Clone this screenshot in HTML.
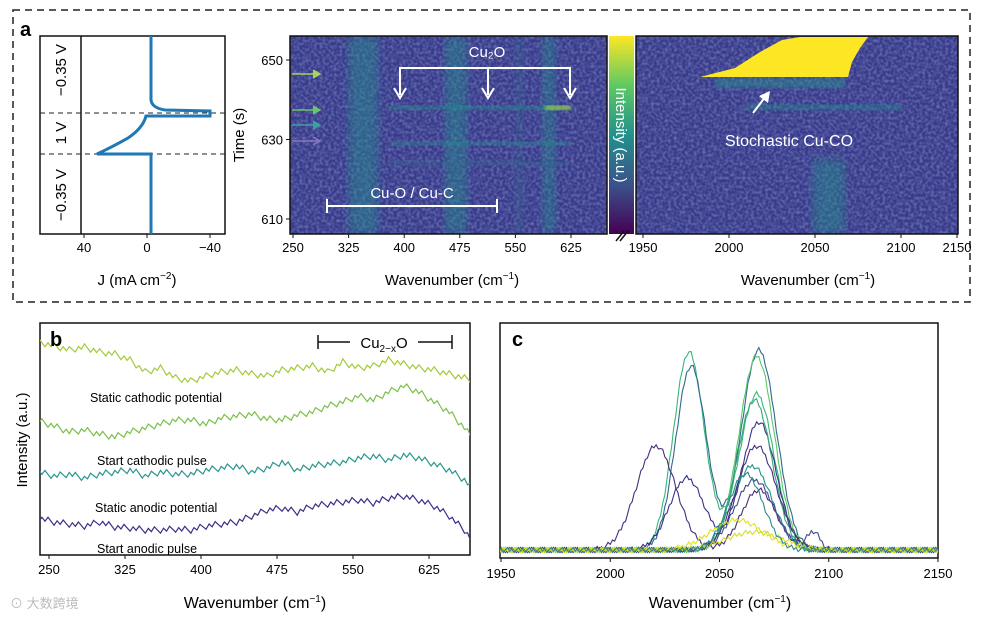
<!DOCTYPE html>
<html><head><meta charset="utf-8">
<style>
html,body{margin:0;padding:0;background:#fff;}
svg{display:block;font-family:"Liberation Sans",sans-serif;}
</style></head>
<body>
<svg id="fig" width="982" height="620" viewBox="0 0 982 620">
<defs>
<linearGradient id="vir" x1="0" y1="1" x2="0" y2="0">
<stop offset="0" stop-color="#440154"/><stop offset="0.25" stop-color="#3b528b"/>
<stop offset="0.5" stop-color="#21918c"/><stop offset="0.75" stop-color="#5ec962"/>
<stop offset="1" stop-color="#fde725"/></linearGradient>
<filter id="blur4"><feGaussianBlur stdDeviation="5"/></filter>
<filter id="blur2"><feGaussianBlur stdDeviation="1.5"/></filter>
<filter id="noise" x="0" y="0" width="100%" height="100%">
<feTurbulence type="fractalNoise" baseFrequency="0.35" numOctaves="1" seed="3"/>
<feColorMatrix type="matrix" values="0 0 0 0 0.25  0 0 0 0 0.35  0 0 0 0 0.6  0 0 0 1.2 -0.45"/>
</filter>
<clipPath id="c1"><rect x="290" y="36" width="317" height="198"/></clipPath>
<clipPath id="c2"><rect x="636" y="36" width="322" height="198"/></clipPath>
<clipPath id="cc"><rect x="500" y="323" width="438" height="235"/></clipPath>
<clipPath id="cb"><rect x="40" y="323" width="430" height="232"/></clipPath>
</defs>

<rect x="13" y="10" width="957" height="292" fill="none" stroke="#222" stroke-width="1.5" stroke-dasharray="7,5"/>
<text x="20" y="36" font-size="20" font-weight="bold">a</text>

<g>
<rect x="40" y="36" width="185" height="198" fill="#fff" stroke="#111" stroke-width="1.5"/>
<line x1="81" y1="36" x2="81" y2="234" stroke="#111" stroke-width="1.5"/>
<line x1="40" y1="113" x2="225" y2="113" stroke="#222" stroke-dasharray="5,4"/>
<line x1="40" y1="154" x2="225" y2="154" stroke="#222" stroke-dasharray="5,4"/>
<text transform="translate(66,70) rotate(-90)" font-size="15" text-anchor="middle">−0.35 V</text>
<text transform="translate(66,133) rotate(-90)" font-size="15" text-anchor="middle">1 V</text>
<text transform="translate(66,195) rotate(-90)" font-size="15" text-anchor="middle">−0.35 V</text>
<path d="M151,36 L151,100 Q152,108 165,110 L210,111 L210,116 L146,116 Q143,128 128,138 Q112,147 97,154 L151,154 L151,234" fill="none" stroke="#1f77b4" stroke-width="3"/>
<g font-size="13" text-anchor="middle">
<line x1="84" y1="234" x2="84" y2="238" stroke="#111"/><text x="84" y="252">40</text>
<line x1="147" y1="234" x2="147" y2="238" stroke="#111"/><text x="147" y="252">0</text>
<line x1="210" y1="234" x2="210" y2="238" stroke="#111"/><text x="210" y="252">−40</text>
</g>
<text x="137" y="285" font-size="15" text-anchor="middle">J (mA cm<tspan dy="-6" font-size="10">−2</tspan><tspan dy="6">)</tspan></text>
</g>

<g>
<rect x="290" y="36" width="317" height="198" fill="#3a3a8c"/>
<rect x="290" y="36" width="317" height="198" filter="url(#noise)"/>
<g id="hm1" clip-path="url(#c1)"></g>
<rect x="290" y="36" width="317" height="198" fill="none" stroke="#111" stroke-width="1.5"/>
</g>
<g id="hm1ax" font-size="13"></g>
<text transform="translate(244,135) rotate(-90)" font-size="15" text-anchor="middle">Time (s)</text>
<text x="452" y="285" font-size="15" text-anchor="middle">Wavenumber (cm<tspan dy="-6" font-size="10">−1</tspan><tspan dy="6">)</tspan></text>
<g stroke="#fff" fill="none" stroke-width="2">
<polyline points="400,95 400,68 570,68 570,95"/><line x1="488" y1="68" x2="488" y2="95"/>
<path d="M394,88 L400,98 L406,88" /><path d="M482,88 L488,98 L494,88"/><path d="M564,88 L570,98 L576,88"/>
<line x1="327" y1="206" x2="497" y2="206"/><line x1="327" y1="199" x2="327" y2="213"/><line x1="497" y1="199" x2="497" y2="213"/>
</g>
<text x="487" y="57" fill="#fff" font-size="15" text-anchor="middle">Cu₂O</text>
<text x="412" y="198" fill="#fff" font-size="15" text-anchor="middle">Cu-O / Cu-C</text>
<g stroke-width="1.5">
<line x1="292" y1="74" x2="318" y2="74" stroke="#a5d45a"/><path d="M313,70 L320,74 L313,78" fill="#a5d45a" stroke="#a5d45a"/>
<line x1="292" y1="110" x2="318" y2="110" stroke="#6cc46a"/><path d="M313,106 L320,110 L313,114" fill="#6cc46a" stroke="#6cc46a"/>
<line x1="292" y1="125" x2="318" y2="125" stroke="#3aa0a0"/><path d="M313,121 L320,125 L313,129" fill="#3aa0a0" stroke="#3aa0a0"/>
<line x1="292" y1="141" x2="318" y2="141" stroke="#8a7ac0"/><path d="M313,137 L320,141 L313,145" fill="none" stroke="#8a7ac0"/>
</g>

<g>
<rect x="609" y="36" width="25" height="198" fill="url(#vir)"/>
<text transform="translate(616,135) rotate(90)" fill="#fff" font-size="15" text-anchor="middle">Intensity (a.u.)</text>
<path d="M616,241 L624,231 M620,241 L628,231" stroke="#111" stroke-width="1.5"/>
</g>

<g>
<rect x="636" y="36" width="322" height="198" fill="#3a3a8c"/>
<rect x="636" y="36" width="322" height="198" filter="url(#noise)"/>
<g id="hm2" clip-path="url(#c2)"></g>
<rect x="636" y="36" width="322" height="198" fill="none" stroke="#111" stroke-width="1.5"/>
</g>
<g id="hm2ax" font-size="13"></g>
<text x="808" y="285" font-size="15" text-anchor="middle">Wavenumber (cm<tspan dy="-6" font-size="10">−1</tspan><tspan dy="6">)</tspan></text>
<g>
<line x1="753" y1="113" x2="766" y2="96" stroke="#fff" stroke-width="2"/>
<path d="M759,96 L770,91 L768,103 Z" fill="#fff"/>
<text x="789" y="146" fill="#fff" font-size="16" text-anchor="middle">Stochastic Cu-CO</text>
</g>

<g>
<rect x="40" y="323" width="430" height="232" fill="#fff" stroke="#111" stroke-width="1.5"/>
<g id="bLines" clip-path="url(#cb)"></g>
<text x="50" y="346" font-size="20" font-weight="bold">b</text>
<rect x="345" y="333" width="72" height="18" fill="#fff"/>
<g stroke="#111" stroke-width="1.5"><line x1="318" y1="342" x2="350" y2="342"/><line x1="418" y1="342" x2="452" y2="342"/><line x1="318" y1="335" x2="318" y2="349"/><line x1="452" y1="335" x2="452" y2="349"/></g>
<text x="384" y="348" font-size="15" text-anchor="middle">Cu<tspan font-size="10" dy="4">2−x</tspan><tspan dy="-4">O</tspan></text>
<g font-size="12.5">
<text x="90" y="402">Static cathodic potential</text>
<text x="97" y="465">Start cathodic pulse</text>
<text x="95" y="512">Static anodic potential</text>
<text x="97" y="553">Start anodic pulse</text>
</g>
</g>
<g id="bAx" font-size="13"></g>
<text transform="translate(27,440) rotate(-90)" font-size="15" text-anchor="middle">Intensity (a.u.)</text>
<text x="255" y="608" font-size="16" text-anchor="middle">Wavenumber (cm<tspan dy="-6" font-size="10">−1</tspan><tspan dy="6">)</tspan></text>

<g>
<rect x="500" y="323" width="438" height="235" fill="#fff" stroke="#111" stroke-width="1.5"/>
<g id="cLines" clip-path="url(#cc)"></g>
<text x="512" y="346" font-size="20" font-weight="bold">c</text>
</g>
<g id="cAx" font-size="13"></g>
<text x="720" y="608" font-size="16" text-anchor="middle">Wavenumber (cm<tspan dy="-6" font-size="10">−1</tspan><tspan dy="6">)</tspan></text>
<text x="10" y="608" font-size="13" fill="#bbb">⊙ 大数跨境</text>
</svg>

<script>
const NS='http://www.w3.org/2000/svg';
function mk(tag,attrs,parent){const e=document.createElementNS(NS,tag);for(const k in attrs)e.setAttribute(k,attrs[k]);parent.appendChild(e);return e;}

const hm1Ticks=[250,325,400,475,550,625];
const hm1TimeTicks=[610,630,650];
const hm1VBandCenters=[345,470,595,555];
const hm1VBandWidths=[40,30,18,12];
const hm1VBandLevels=[0.3,0.45,0.3,0.2];
const hm1HBandTimes=[638,629,624];
const hm1HBandLevels=[0.4,0.35,0.15];
const hm2Ticks=[1950,2000,2050,2100,2150];
const hm2HBandTimes=[638];
const hm2HBandLevels=[0.35];
const hm2VBandCenters=[2058];
const hm2VBandLevels=[0.3];

const x1=v=>293+(v-250)*(278/375);
const t1=v=>219-(v-610)*(159/40);
const x2=v=>643+(v-1950)*(86/50);
const viridis=l=>{const c=['#3a3a8c','#31688e','#21918c','#35b779','#90d743','#fde725'];const i=Math.min(5,Math.round(l*5));return c[i];};

const g1=document.getElementById('hm1');
hm1VBandCenters.forEach((c,i)=>{
  const r=mk('rect',{x:x1(c)-hm1VBandWidths[i]*0.37,y:36,width:hm1VBandWidths[i]*0.74,height:198,fill:viridis(hm1VBandLevels[i]),opacity:0.45,filter:'url(#blur4)'},g1);
  
  
});
hm1HBandTimes.forEach((t,i)=>{
  const r=mk('rect',{x:x1(380),y:t1(t)-2,width:x1(625)-x1(380),height:4,fill:viridis(hm1HBandLevels[i]),opacity:0.55,filter:'url(#blur2)'},g1);
  
  
});
mk('rect',{x:x1(590),y:t1(638)-2,width:x1(625)-x1(590),height:4,fill:'#a8d840',opacity:0.8,filter:'url(#blur2)'},g1);
const ax1=document.getElementById('hm1ax');
hm1Ticks.forEach(v=>{mk('line',{x1:x1(v),y1:234,x2:x1(v),y2:238,stroke:'#111'},ax1);const t=mk('text',{x:x1(v),y:252,'text-anchor':'middle'},ax1);t.textContent=v;});
hm1TimeTicks.forEach(v=>{mk('line',{x1:286,y1:t1(v),x2:290,y2:t1(v),stroke:'#111'},ax1);const t=mk('text',{x:283,y:t1(v)+5,'text-anchor':'end'},ax1);t.textContent=v;});

const g2=document.getElementById('hm2');
hm2VBandCenters.forEach((c,i)=>{
  const r=mk('rect',{x:x2(c)-16,y:160,width:32,height:74,fill:viridis(hm2VBandLevels[i]),opacity:0.45,filter:'url(#blur4)'},g2);
  
  
});
hm2HBandTimes.forEach((t,i)=>{
  const r=mk('rect',{x:x2(2010),y:t1(t)-3,width:x2(2100)-x2(2010),height:5,fill:viridis(hm2HBandLevels[i]),opacity:0.5,filter:'url(#blur2)'},g2);
  
  
});
mk('rect',{x:715,y:78,width:130,height:10,fill:'#2b8c8c',opacity:0.5,filter:'url(#blur2)'},g2);
const blob=mk('polygon',{points:'700,77 735,68 760,52 782,40 800,37 868,37 860,48 852,62 848,77',fill:'#fde725'},g2);


const ax2=document.getElementById('hm2ax');
hm2Ticks.forEach(v=>{const xx=Math.min(957,x2(v));mk('line',{x1:xx,y1:234,x2:xx,y2:238,stroke:'#111'},ax2);const t=mk('text',{x:xx,y:252,'text-anchor':'middle'},ax2);t.textContent=v;});

const bTicks=[250,325,400,475,550,625];
const bWavenumbers=[240,255,270,285,300,315,330,345,360,375,390,405,420,435,450,465,480,495,510,525,540,555,570,585,600,615,630,645,660,675];
const bTop=   [342,346,350,347,352,354,360,372,368,378,381,376,372,370,374,376,370,368,366,372,362,368,366,360,364,368,370,374,378,382];
const bSecond=[421,426,432,430,434,437,432,428,424,420,420,424,418,416,414,419,420,415,412,406,402,396,400,392,386,392,402,412,428,448];
const bThird= [472,476,474,478,474,472,470,476,472,474,474,470,468,466,472,468,462,470,466,464,462,458,456,460,455,458,464,470,480,496];
const bFourth=[518,522,524,526,522,527,528,530,530,529,530,526,524,522,516,510,508,512,506,504,502,500,503,498,496,500,506,516,530,552];
const bColors=['#a3c93a','#7bbf4a','#2a968e','#3b2f86'];
const xb=v=>49+(v-250)*(380/375);
const gb=document.getElementById('bLines');
[bTop,bSecond,bThird,bFourth].forEach((s,i)=>{
  const pts=[];
  for(let j=0;j<s.length-1;j++){
    for(let k=0;k<5;k++){
      const f=k/5;const w=bWavenumbers[j]+f*(bWavenumbers[j+1]-bWavenumbers[j]);
      const y=s[j]+f*(s[j+1]-s[j])+(((j*5+k)*7+i*3)%5-2)*1.6;
      pts.push(xb(w)+','+y);
    }
  }
  const p=mk('polyline',{points:pts.join(' '),fill:'none',stroke:bColors[i],'stroke-width':1.2},gb);
  
  
});
const bax=document.getElementById('bAx');
bTicks.forEach(v=>{mk('line',{x1:xb(v),y1:555,x2:xb(v),y2:559,stroke:'#111'},bax);const t=mk('text',{x:xb(v),y:574,'text-anchor':'middle'},bax);t.textContent=v;});

const cTicks=[1950,2000,2050,2100,2150];
const cPeakCenters=[[2036,2067],[2037,2068],[2021,2068],[2035,2068],[2067],[2066],[2065],[2067],[2066,2093],[2058],[2066],[2062]];
const cPeakHeights=[[0.99,0.78],[0.92,1.0],[0.52,0.3],[0.36,0.64],[0.97],[0.75],[0.42],[0.52],[0.35,0.09],[0.15],[0.09],[0.38]];
const cPeakWidths=[[7,8],[7,8],[9,8],[8,8],[8],[8],[9],[9],[9,3],[12],[13],[8]];
const cColors=['#35b779','#31688e','#472d7b','#3b2f86','#5ac864','#37a47c','#21918c','#46307e','#3e4a89','#dde318','#d2dc2a','#2b8c8c'];
const xc=v=>501+(v-1950)*(437/200);
const yc=v=>550-v*200;
const gc=document.getElementById('cLines');
cPeakCenters.forEach((cs,i)=>{
  const pts=[];
  for(let w=1948;w<=2152;w+=1){
    let y=0;cs.forEach((c,k)=>{y+=cPeakHeights[i][k]*Math.exp(-0.5*Math.pow((w-c)/cPeakWidths[i][k],2));});
    y+=((w*7+i*13)%5-2)*0.006;
    pts.push(xc(w)+','+yc(y));
  }
  const p=mk('polyline',{points:pts.join(' '),fill:'none',stroke:cColors[i],'stroke-width':1.1},gc);
  
  
});
const cax=document.getElementById('cAx');
cTicks.forEach(v=>{mk('line',{x1:xc(v),y1:558,x2:xc(v),y2:562,stroke:'#111'},cax);const t=mk('text',{x:xc(v),y:578,'text-anchor':'middle'},cax);t.textContent=v;});
</script>
</body></html>
